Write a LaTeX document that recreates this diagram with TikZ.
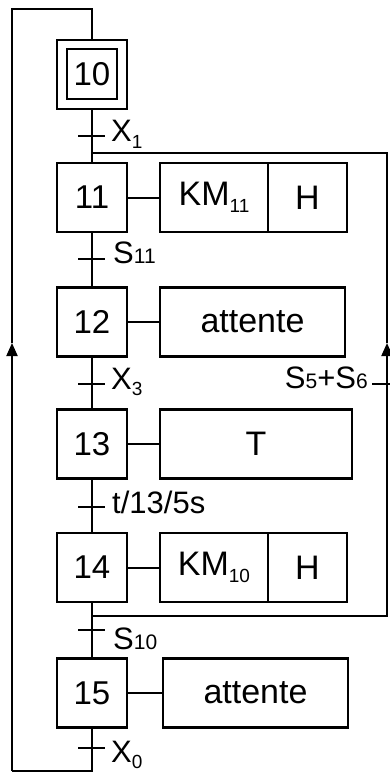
\documentclass[tikz,border=0pt]{standalone}
\usepackage{fontspec}
\setmainfont{Liberation Sans}
\usetikzlibrary{arrows.meta,positioning}
\newcommand{\indice}[2][6pt]{\raisebox{-#1}{\fontsize{19}{19}\selectfont #2}}
\newcommand{\petit}[1]{{\fontsize{21}{21}\selectfont #1}}

\begin{document}
\begin{tikzpicture}[x=1pt,y=-1pt,
  etape/.style={draw, line width=2.4pt, minimum width=70pt, minimum height=69pt,
        inner sep=0pt, font=\fontsize{33}{35}\selectfont},
  action/.style={draw, line width=2.4pt, minimum height=69pt, inner sep=0pt,
        font=\fontsize{34}{36}\selectfont},
  lien/.style={line width=2pt},
  recept/.style={line width=2.2pt},
  cond/.style={font=\fontsize{31}{33}\selectfont, inner sep=0pt, anchor=base west},
  fleche/.style={-{Triangle[length=13pt,width=11pt]}}]
  \useasboundingbox (0,0) rectangle (390,773);

  % etapes
  \node[etape] (e10) at (92,74.5) {};
  \node[etape, minimum width=50pt, minimum height=50pt] (e10i) at (92,74) {10};
  \node[etape] (e11) at (92,197.5) {11};
  \node[etape] (e12) at (92,322) {12};
  \node[etape] (e13) at (92,444) {13};
  \node[etape] (e14) at (92,567.5) {14};
  \node[etape] (e15) at (92,693) {15};

  % actions
  \node[action, minimum width=108pt] (a11) at (214,197.5) {KM\indice[7pt]{11}};
  \node[action, minimum width=79pt] (h11) at (307.5,197.5) {H};
  \node[action, minimum width=185pt] (a12) at (252.5,322) {attente};
  \node[action, minimum width=192pt] (a13) at (256,444) {T};
  \node[action, minimum width=108pt] (a14) at (214,567.5) {KM\indice[7pt]{10}};
  \node[action, minimum width=79pt] (h14) at (307.5,567.5) {H};
  \node[action, minimum width=185pt] (a15) at (255.5,693) {attente};
  \foreach \e/\a in {e11/a11,e12/a12,e13/a13,e14/a14,e15/a15}
    \draw[lien] (\e.east) -- (\a.west);

  % transitions
  \coordinate (t1) at (92,136);
  \coordinate (t2) at (92,259);
  \coordinate (t3) at (92,384);
  \coordinate (t4) at (92,507);
  \coordinate (t5) at (92,630);
  \coordinate (t6) at (92,748);
  \coordinate (t7) at (387,384);
  \foreach \t in {t1,t2,t3,t4,t5,t6}
    \draw[recept] ([xshift=-14pt]\t) -- ([xshift=13pt]\t);
  \draw[recept] ([xshift=-15pt]t7) -- ([xshift=3pt]t7);

  \node[cond] (c1) at (111,142) {X\indice{1}};
  \node[cond] (c2) at (113,263) {S\petit{11}};
  \node[cond] (c3) at (111,389) {X\indice{3}};
  \node[cond] (c4) at (112,513) {t/13/5s};
  \node[cond] (c5) at (113,649) {S\petit{10}};
  \node[cond] (c6) at (111,762) {X\indice{0}};
  \node[cond, anchor=base east] (c7) at (368,388) {S\petit{5}+S\petit{6}};

  % liaisons verticales
  \draw[lien] (e10.south) -- (e11.north);
  \draw[lien] (e11.south) -- (e12.north);
  \draw[lien] (e12.south) -- (e13.north);
  \draw[lien] (e13.south) -- (e14.north);
  \draw[lien] (e14.south) -- (e15.north);

  % retour vers 10
  \coordinate (bg) at (12,771);
  \coordinate (fg) at (12,343);
  \coordinate (hg) at (12,9);
  \draw[lien] (e15.south) -- (e15.south |- bg) -- (bg);
  \draw[lien, fleche] (bg) -- (fg);
  \draw[lien] (fg) -- (hg) -- (e10.north |- hg) -- (e10.north);

  % reprise vers 11
  \coordinate (bd) at (387,616);
  \coordinate (fd) at (387,343);
  \coordinate (hd) at (387,153);
  \draw[lien, fleche] (e14.south |- bd) -- (bd) -- (fd);
  \draw[lien] (fd) -- (hd) -- (e11.north |- hd);
\end{tikzpicture}
\end{document}
